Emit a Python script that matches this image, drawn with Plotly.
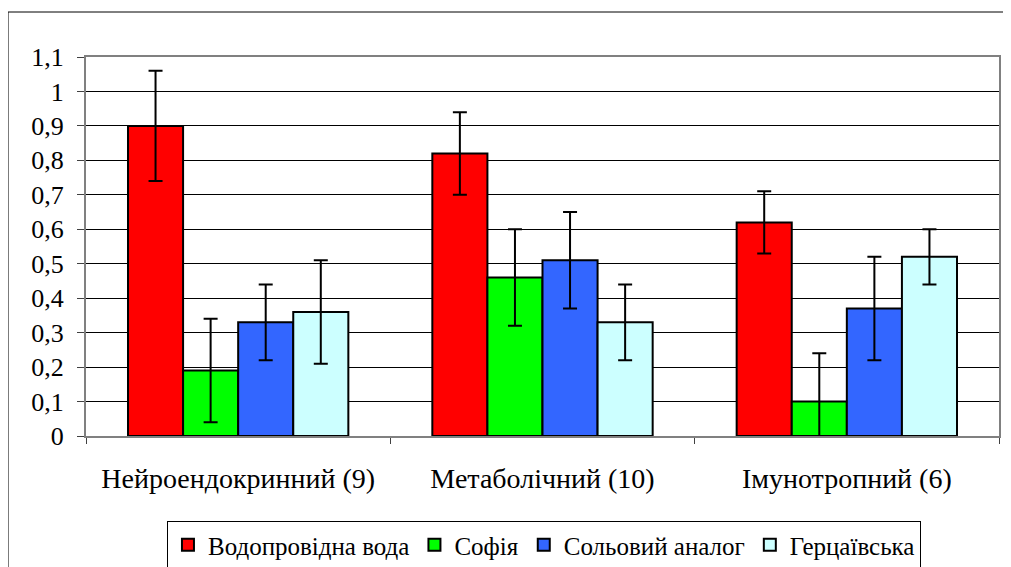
import plotly.graph_objects as go

categories = ["Нейроендокринний (9)", "Метаболічний (10)", "Імунотропний (6)"]
series_names = ["Водопровідна вода", "Софія", "Сольовий аналог", "Герцаївська"]
vodoprovidna = [0.90, 0.82, 0.62]
vodoprovidna_err = [0.16, 0.12, 0.09]
sofia = [0.19, 0.46, 0.10]
sofia_err = [0.15, 0.14, 0.14]
solovyi = [0.33, 0.51, 0.37]
solovyi_err = [0.11, 0.14, 0.15]
hertsaivska = [0.36, 0.33, 0.52]
hertsaivska_err = [0.15, 0.11, 0.08]
colors = ["#FF0000", "#00FF00", "#3366FF", "#CCFFFF"]
ytick_vals = [0, 0.1, 0.2, 0.3, 0.4, 0.5, 0.6, 0.7, 0.8, 0.9, 1.0, 1.1]
ytick_text = ["0", "0,1", "0,2", "0,3", "0,4", "0,5", "0,6", "0,7", "0,8", "0,9", "1", "1,1"]

FONT = "Liberation Serif"

fig = go.Figure()
for name, vals, errs, col in zip(series_names,
                                 [vodoprovidna, sofia, solovyi, hertsaivska],
                                 [vodoprovidna_err, sofia_err, solovyi_err, hertsaivska_err],
                                 colors):
    fig.add_trace(go.Bar(
        name=name, x=categories, y=vals,
        marker=dict(color=col, line=dict(color="black", width=2)),
        error_y=dict(type="data", array=errs, visible=True, color="black",
                     thickness=2, width=7),
    ))

fig.update_layout(
    width=1003, height=559,
    margin=dict(l=78, r=12, t=49, b=131, autoexpand=False),
    paper_bgcolor="white", plot_bgcolor="white",
    barmode="group", bargap=0.276, bargroupgap=0,
    font=dict(family=FONT, size=26, color="black"),
    showlegend=True,
    legend=dict(orientation="h", x=0.5016, xanchor="center", y=-0.2876, yanchor="middle",
                bordercolor="black", borderwidth=1, font=dict(family=FONT, size=25, color="black"),
                itemwidth=30, tracegroupgap=0),
    xaxis=dict(showline=True, linecolor="#808080", linewidth=2, mirror=True,
               ticks="outside", tickson="boundaries", ticklen=6, tickcolor="#404040",
               ticklabelstandoff=16, automargin=False,
               tickfont=dict(family=FONT, size=28, color="black")),
    yaxis=dict(range=[0, 1.1], tickvals=ytick_vals, ticktext=ytick_text,
               showline=True, linecolor="#808080", linewidth=2, mirror=True,
               ticks="outside", ticklen=7, tickcolor="#404040",
               showgrid=True, gridcolor="#000000", gridwidth=1, automargin=False,
               zeroline=False, tickfont=dict(family=FONT, size=26, color="black"),
               ticklabelstandoff=8),
    shapes=[dict(type="rect", xref="paper", yref="paper",
                 x0=-0.0854, x1=1.0099, y0=-0.36, y1=1.1187,
                 line=dict(color="black", width=1), fillcolor="rgba(0,0,0,0)", layer="below")],
)

fig.write_html("out.html")
